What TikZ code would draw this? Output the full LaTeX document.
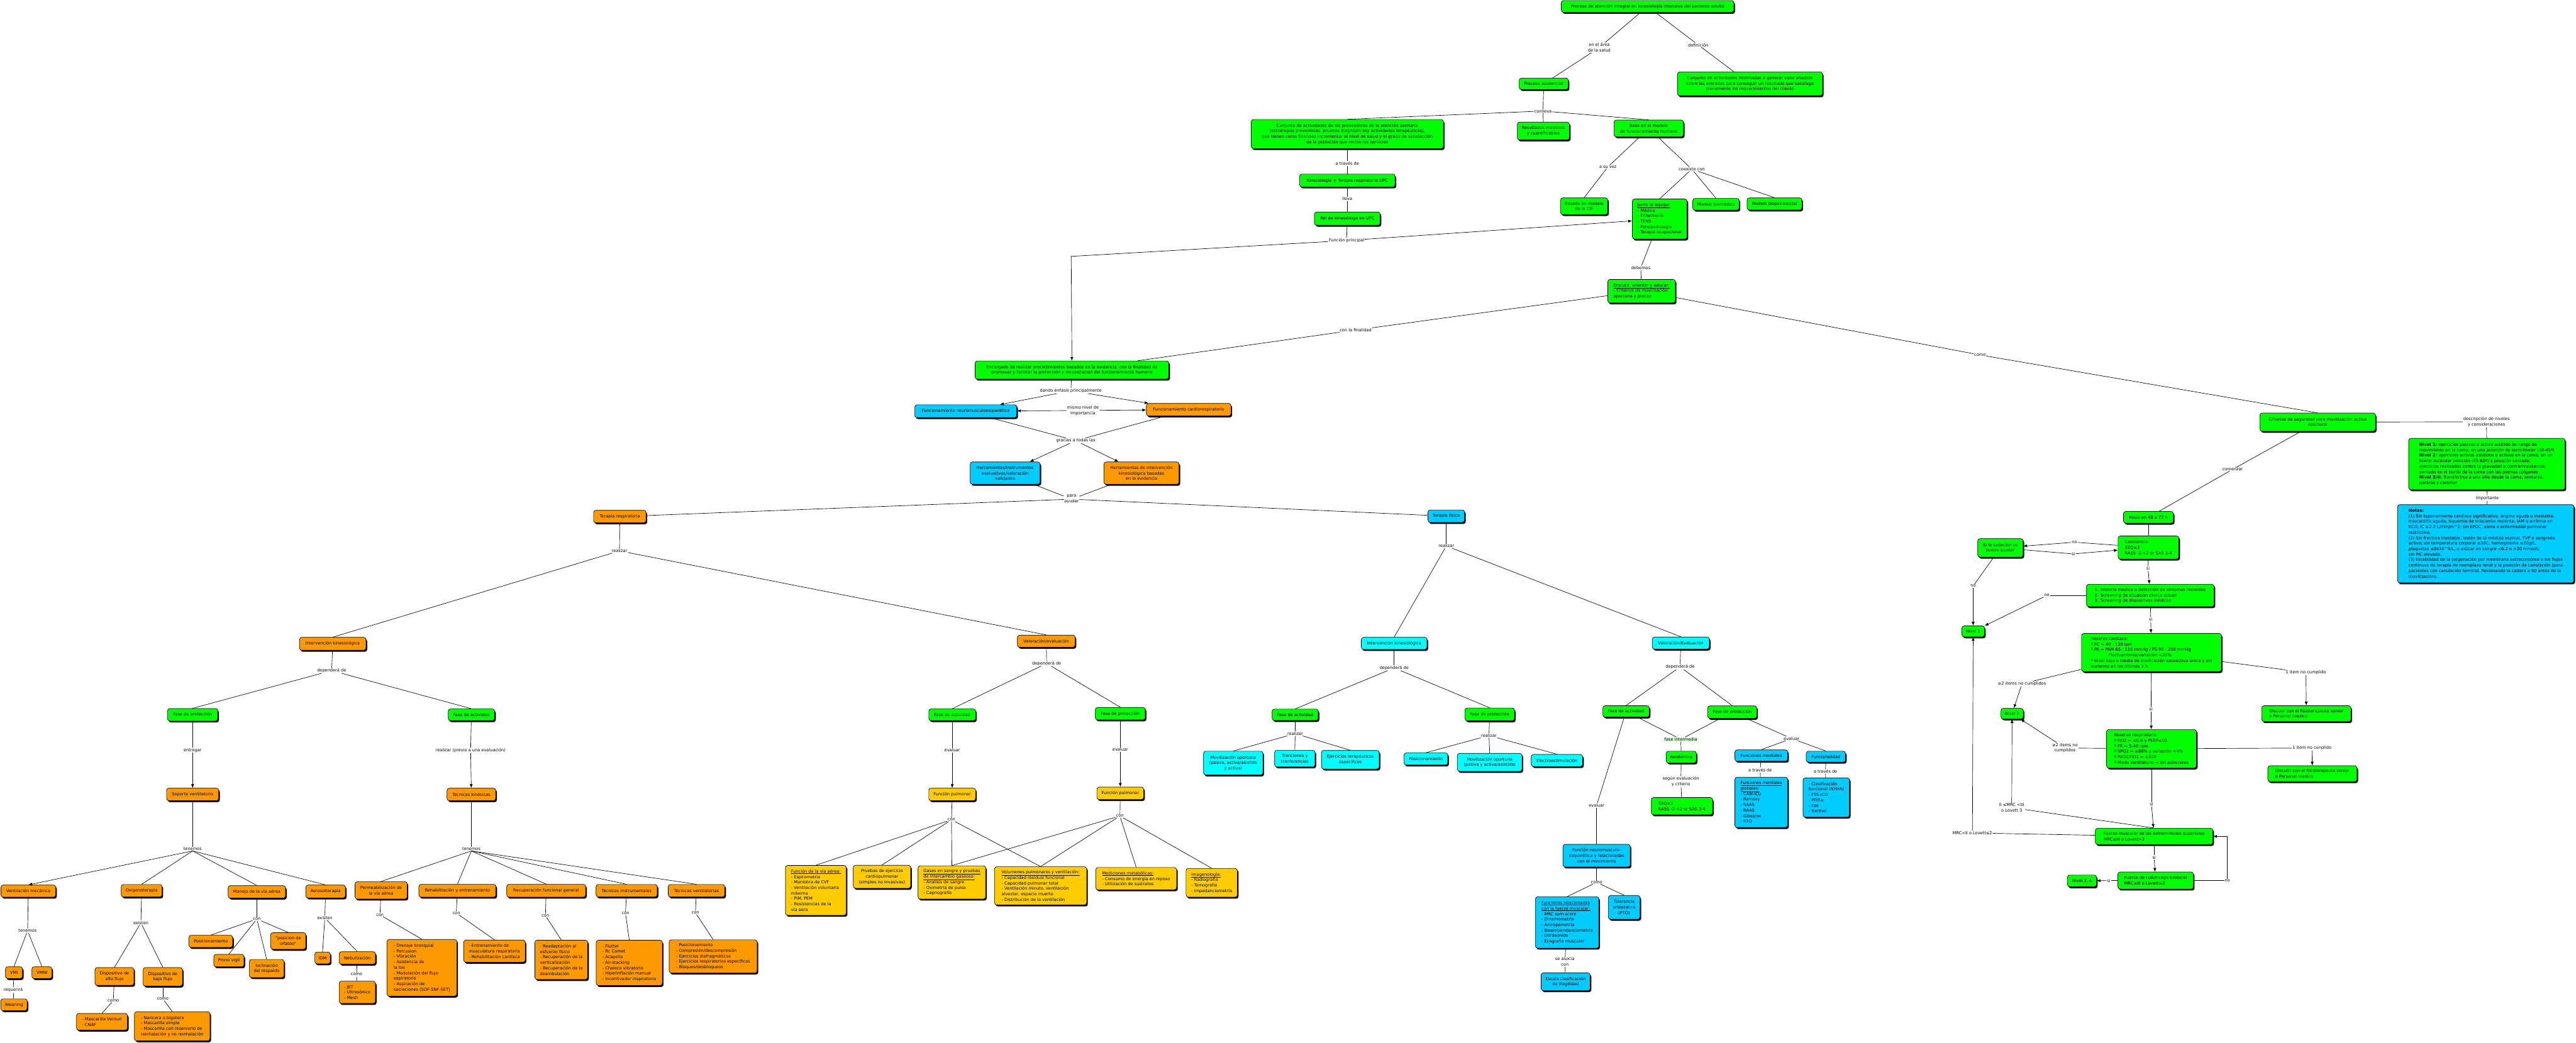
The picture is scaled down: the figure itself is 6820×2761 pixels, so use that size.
\documentclass[tikz,border=0pt]{standalone}
\usepackage{fontspec}
\setmainfont{DejaVu Sans}
\usetikzlibrary{arrows.meta,shadows}
\definecolor{cmgreen}{HTML}{00FF00}
\definecolor{cmorange}{HTML}{FF9900}
\definecolor{cmcyan}{HTML}{00FFFF}
\definecolor{cmblue}{HTML}{00CCFF}
\definecolor{cmyellow}{HTML}{FFCC00}
\definecolor{cmpale}{HTML}{CCFFCC}
\tikzset{sz/.style 2 args={minimum width=#1pt, minimum height=#2pt}}

\begin{document}
\begin{tikzpicture}[
    x=1pt, y=-1pt,
    box/.style={draw=black, line width=1.1pt, rounded corners=6pt, align=center,
        inner sep=3pt, font=\fontsize{11}{14.5}\selectfont,
        drop shadow={fill=black, opacity=1, shadow xshift=3pt, shadow yshift=-4pt}},
    gbox/.style={box, fill=cmgreen},
    obox/.style={box, fill=cmorange},
    cbox/.style={box, fill=cmcyan},
    bbox/.style={box, fill=cmblue},
    ybox/.style={box, fill=cmyellow},
    lbl/.style={fill=white, inner sep=1.5pt, align=center, font=\fontsize{11}{14.5}\selectfont},
    line/.style={line width=1.1pt, draw=black},
    arrow/.style={line, -{Latex[length=10pt,width=8pt]}}
]
\path[use as bounding box, fill=white] (0,0) rectangle (6820,2761);

% upper part
\node[gbox, sz={457}{31}] (top) at (4362,17) {Proceso de atención integral en kinesiología intensiva del paciente adulto};
\node[gbox, sz={130}{30}] (asist) at (4087,222) {Proceso asistencial};
\node[gbox, sz={384}{63}] (defin) at (4633,222) {Conjunto de actividades destinadas a generar valor añadido\\sobre las entradas para conseguir un resultado que satisfaga\\plenamente los requerimientos del cliente};
\node[gbox, sz={509}{77}] (conjunto) at (3567,355) {Conjunto de actividades de los proveedores de la atención sanitaria\\(estrategias preventivas, pruebas diagnósticasy actividades terapéuticas),\\que tienen como finalidad incrementar el nivel de salud y el grado de satisfacción\\de la población que recibe los servicios};
\node[gbox, sz={138}{47}] (result) at (4086,347) {Resultados medibles\\y cuantificables};
\node[gbox, sz={184}{44}] (base) at (4365,340) {Base en el modelo\\de funcionamiento humano};
\node[gbox, sz={253}{34}] (kine) at (3567,478) {Kinesiología + Terapia respiratoria UPC};
\node[gbox, sz={174}{35}] (rol) at (3567,579) {Rol de kinesiólogo en UPC};
\node[gbox, sz={125}{44}] (cif) at (4194,546) {Basado en modelo\\de la CIF};
\node[gbox, sz={145}{106}, align=left] (equipo) at (4394,580) {\underline{Junto al equipo:}\\- Médico\\- Enfermería\\- TENS\\- Fonoaudiología\\- Terapia ocupacional};
\node[gbox, sz={123}{31}] (biomed) at (4543,541) {Modelo biomédico};
\node[gbox, sz={145}{32}] (biopsico) at (4698,540) {Modelo biopsicosocial};
\node[gbox, sz={179}{62}, align=left] (discutir) at (4346,771) {\underline{Discutir, orientar y educar:}\\- Criterios de movilización\\oportuna y precoz};
\node[gbox, sz={513}{48}] (encargado) at (2838,980) {Encargado de realizar procedimientos basados en la evidencia, con la finalidad de\\promover y facilitar la protección y recuperación del funcionamiento humano};
\node[bbox, sz={270}{34}] (neuro) at (2557,1089) {Funcionamiento neuromusculoesquelético};
\node[obox, sz={224}{33}] (cardio) at (3147,1085) {Funcionamiento cardiorespiratorio};
\node[bbox, sz={185}{59}] (herreval) at (2661,1253) {Herramientas/instrumentos\\evaluativos/valoración\\validados};
\node[obox, sz={199}{59}] (herrint) at (3022,1253) {Herramientas de intervención\\kinesiológica basadas\\en la evidencia};
\node[obox, sz={139}{33}] (terresp) at (1641,1368) {Terapia respiratoria};
\node[bbox, sz={97}{33}] (terfis) at (3829,1367) {Terapia física};
\coordinate (bend) at (2836,679);

\node[lbl] (l1) at (4234,126) {en el área\\de la salud};
\node[lbl] (l2) at (4496,119) {definición};
\node[lbl] (l3) at (4085,294) {conlleva};
\node[lbl] (l4) at (3567,433) {a través de};
\node[lbl] (l5) at (3567,527) {lleva};
\node[lbl] (l6) at (3565,637) {Función principal};
\node[lbl] (l7) at (4257,442) {a su vez};
\node[lbl] (l8) at (4479,448) {coexiste con};
\node[lbl] (l9) at (4344,709) {debemos};
\node[lbl] (l10) at (3589,874) {con la finalidad};
\node[lbl] (l11) at (5242,940) {como};
\node[lbl] (l12) at (2835,1035) {dando énfasis principalmente};
\node[lbl] (l13) at (2867,1087) {mismo nivel de\\importancia};
\node[lbl] (l14) at (2848,1167) {gracias a todas las};
\node[lbl] (l15) at (2837,1322) {para\\ayudar};

\draw[line] (top) -- (l1); \draw[line] (l1) -- (asist);
\draw[line] (top) -- (l2); \draw[line] (l2) -- (defin);
\draw[line] (asist) -- (l3);
\draw[line] (l3) -- (conjunto.north); \draw[line] (l3) -- (result.north); \draw[line] (l3) -- (base.north);
\draw[line] (conjunto) -- (l4); \draw[line] (l4) -- (kine);
\draw[line] (kine) -- (l5); \draw[line] (l5) -- (rol);
\draw[line] (rol) -- (l6);
\draw[arrow] (l6) -- (bend) -- (encargado);
\draw[arrow] (l6) -- (equipo);
\draw[line] (base) -- (l7); \draw[line] (l7) -- (cif.north);
\draw[line] (base) -- (l8);
\draw[line] (l8) -- (equipo.north); \draw[line] (l8) -- (biomed.north); \draw[line] (l8) -- (biopsico.north);
\draw[line] (equipo) -- (l9); \draw[line] (l9) -- (discutir);
\draw[line] (discutir) -- (l10); \draw[line] (l10) -- (encargado);
\draw[line] (discutir) -- (l11);
\draw[line] (encargado) -- (l12);
\draw[arrow] (l12) -- (neuro); \draw[arrow] (l12) -- (cardio);
\draw[arrow] (l13) -- (neuro); \draw[arrow] (l13) -- (cardio);
\draw[line] (neuro) -- (l14); \draw[line] (cardio) -- (l14);
\draw[arrow] (l14) -- (herreval); \draw[arrow] (l14) -- (herrint);
\draw[line] (herreval) -- (l15); \draw[line] (herrint) -- (l15);
\draw[line] (l15) -- (terresp); \draw[line] (l15) -- (terfis);

% terapia respiratoria
\node[obox, sz={176}{34}] (intresp) at (881,1705) {Intervención kinesiológica};
\node[obox, sz={153}{32}] (valresp) at (2770,1698) {Valoración/evaluación};
\node[gbox, sz={133}{33}] (protA) at (510,1893) {Fase de protección};
\node[gbox, sz={123}{31}] (actA) at (1248,1893) {Fase de actividad};
\node[gbox, sz={124}{31}] (actB) at (2521,1893) {Fase de actividad};
\node[gbox, sz={132}{33}] (protB) at (2966,1890) {Fase de protección};
\node[obox, sz={138}{33}] (soporte) at (510,2104) {Soporte ventilatorio};
\node[obox, sz={129}{33}] (tecnic) at (1248,2104) {Tecnicas kinésicas};
\node[ybox, sz={124}{33}] (funpA) at (2521,2104) {Función pulmonar};
\node[ybox, sz={124}{33}] (funpB) at (2966,2101) {Función pulmonar};

\node[obox, sz={145}{32}] (vmec) at (75,2360) {Ventilación mecánica};
\node[obox, sz={108}{33}] (oxig) at (375,2359) {Oxigenoterapia};
\node[obox, sz={152}{33}] (manejo) at (680,2362) {Manejo de la vía aérea};
\node[obox, sz={105}{34}] (aeros) at (862,2361) {Aerosolterapia};
\node[obox, sz={138}{46}] (permea) at (1009,2358) {Permeabilización de\\la vía aérea};
\node[obox, sz={204}{34}] (rehab) at (1211,2359) {Rehabilitación y entrenamiento};
\node[obox, sz={209}{34}] (recup) at (1446,2359) {Recuperación funcional general};
\node[obox, sz={162}{33}] (tinstr) at (1659,2359) {Técnicas instrumentales};
\node[obox, sz={150}{33}] (tvent) at (1844,2359) {Técnicas ventilatorias};
\node[obox, sz={45}{31}] (vmi) at (37,2576) {VMI};
\node[obox, sz={53}{31}] (vmni) at (111,2576) {VMNI};
\node[obox, sz={70}{31}] (weaning) at (37,2661) {Weaning};
\node[obox, sz={103}{47}] (alto) at (303,2586) {Dispositivo de\\alto flujo};
\node[obox, sz={104}{49}] (bajo) at (431,2587) {Dispositivo de\\bajo flujo};
\node[obox, sz={135}{44}, align=left] (venturi) at (270,2706) {- Mascarilla Venturi\\- CNAF};
\node[obox, sz={200}{77}, align=left] (naricera) at (456,2718) {- Naricera o bigotera\\- Mascarilla simple\\- Mascarilla con reservorio de\\reinhalación y no reinhalación};
\node[obox, sz={116}{32}] (posic) at (558,2493) {Posicionamiento};
\node[obox, sz={80}{33}] (prono) at (606,2544) {Prono vigil};
\node[obox, sz={92}{48}] (inclin) at (706,2565) {Inclinación\\del respaldo};
\node[obox, sz={93}{44}] (olfateo) at (763,2492) {"posicion de\\olfateo"};
\node[obox, sz={41}{31}] (idm) at (854,2537) {IDM};
\node[obox, sz={96}{33}] (nebul) at (946,2537) {Nebulización};
\node[obox, sz={96}{59}, align=left] (jet) at (946,2628) {- JET\\- Ultrasónico\\- Mesh};
\node[obox, sz={185}{150}, align=left] (drenaje) at (1117,2563) {- Drenaje bronquial\\- Percusion\\- Vibración\\- Asistencia de\\la tos\\- Modulación del flujo\\espiratorio\\- Aspiración de\\secreciones (SOF-SNF-SET)};
\node[obox, sz={163}{59}, align=left] (entren) at (1309,2519) {- Entrenamiento de\\musculatura respiratoria\\- Rehabilitación cardíaca};
\node[obox, sz={140}{104}, align=left] (readapt) at (1486,2542) {- Readaptación al\\esfuerzo físico\\- Recuperación de la\\verticalización\\- Recuperación de la\\deambulación};
\node[obox, sz={175}{120}, align=left] (flutter) at (1666,2550) {- Flutter\\- Rc Comet\\- Acapella\\- Air-stacking\\- Chaleco vibratorio\\- Hiperinflación manual\\- Incentivador inspiratorio};
\node[obox, sz={233}{88}, align=left] (posvent) at (1888,2533) {- Posicionamiento\\- Compresión/descompresión\\- Ejercicios diafragmáticos\\- Ejercicios respiratorios específicos\\- Bloques/desbloqueos};

\node[ybox, sz={161}{132}, align=left] (viaaerea) at (2160,2358) {\underline{Función de la vía aérea:}\\- Espirometria\\- Maniobra de CVF\\- Ventilación voluntaria\\máxima\\- PIM, PEM\\- Resistencias de la\\vía aera};
\node[ybox, sz={152}{61}] (pruebas) at (2335,2322) {Pruebas de ejercicio\\cardiopulmonar\\(simples no invasivas)};
\node[ybox, sz={179}{88}, align=left] (gases) at (2520,2337) {\underline{Gases en sangre y pruebas}\\\underline{de intercambio gaseoso:}\\- Analisis de sangre\\- Oximetría de pulso\\- Capnografía};
\node[ybox, sz={244}{101}, align=left] (volum) at (2755,2346) {\underline{Volumenes pulmonares y ventilación:}\\- Capacidad residual funcional\\- Capacidad pulmonar total\\- Ventilación minuto, ventilación\\alveolar, espacio muerto\\- Distribución de la ventilación};
\node[ybox, sz={214}{59}, align=left] (medic) at (3008,2327) {\underline{Mediciones metabólicas:}\\- Consumo de energía en reposo\\- Utilización de sustratos};
\node[ybox, sz={136}{76}, align=left] (imagen) at (3208,2338) {\underline{Imagenología:}\\- Radiografía\\- Tomografía\\- Impedanciometría};

\node[lbl] (l16) at (1640,1459) {realizar};
\node[lbl] (l17) at (878,1776) {dependerá de};
\node[lbl] (l18) at (2771,1757) {dependerá de};
\node[lbl] (l19) at (510,1987) {entregar};
\node[lbl] (l20) at (1246,1987) {realizar (previo a una evaluación)};
\node[lbl] (l21) at (2521,1987) {evaluar};
\node[lbl] (l22) at (2966,1985) {evaluar};
\node[lbl] (l23) at (510,2248) {tenemos};
\node[lbl] (l24) at (1248,2248) {tenemos};
\node[lbl] (l25) at (2519,2171) {con};
\node[lbl] (l26) at (2965,2161) {con};
\node[lbl] (l40) at (73,2465) {tenemos};
\node[lbl] (l41) at (35,2622) {requerirá};
\node[lbl] (l42) at (373,2444) {existen};
\node[lbl] (l43) at (300,2650) {como};
\node[lbl] (l44) at (431,2645) {como};
\node[lbl] (l45) at (680,2434) {con};
\node[lbl] (l46) at (860,2431) {existen};
\node[lbl] (l47) at (944,2581) {como};
\node[lbl] (l48) at (1006,2423) {con};
\node[lbl] (l49) at (1208,2418) {con};
\node[lbl] (l50) at (1444,2425) {con};
\node[lbl] (l51) at (1656,2419) {con};
\node[lbl] (l52) at (1841,2417) {con};

\draw[line] (terresp) -- (l16);
\draw[line] (l16) -- (intresp.north); \draw[line] (l16) -- (valresp.north);
\draw[line] (intresp) -- (l17);
\draw[line] (l17) -- (protA.north); \draw[line] (l17) -- (actA.north);
\draw[line] (valresp) -- (l18);
\draw[line] (l18) -- (actB.north); \draw[line] (l18) -- (protB.north);
\draw[line] (protA) -- (l19); \draw[arrow] (l19) -- (soporte);
\draw[line] (actA) -- (l20); \draw[arrow] (l20) -- (tecnic);
\draw[line] (actB) -- (l21); \draw[arrow] (l21) -- (funpA);
\draw[line] (protB) -- (l22); \draw[arrow] (l22) -- (funpB);
\draw[line] (funpA) -- (l25);
\draw[line] (l25) -- (viaaerea.north); \draw[line] (l25) -- (pruebas.north);
\draw[line] (l25) -- (gases.north); \draw[line] (l25) -- (volum.north);
\draw[line] (funpB) -- (l26);
\draw[line] (l26) -- (gases.north); \draw[line] (l26) -- (volum.north);
\draw[line] (l26) -- (medic.north); \draw[line] (l26) -- (imagen.north);
\draw[line] (soporte) -- (l23);
\draw[arrow] (l23.south) -- (vmec.north); \draw[line] (l23.south) -- (oxig.north);
\draw[line] (l23.south) -- (manejo.north); \draw[line] (l23.south) -- (aeros.north);
\draw[line] (tecnic) -- (l24);
\draw[line] (l24.south) -- (permea.north); \draw[line] (l24.south) -- (rehab.north);
\draw[line] (l24.south) -- (recup.north); \draw[line] (l24.south) -- (tinstr.north);
\draw[line] (l24.south) -- (tvent.north);
\draw[line] (vmec) -- (l40);
\draw[line] (l40) -- (vmi.north); \draw[line] (l40) -- (vmni.north);
\draw[line] (vmi) -- (l41); \draw[line] (l41) -- (weaning);
\draw[line] (oxig) -- (l42);
\draw[line] (l42) -- (alto.north); \draw[line] (l42) -- (bajo.north);
\draw[line] (alto) -- (l43); \draw[line] (l43) -- (venturi.north);
\draw[line] (bajo) -- (l44); \draw[line] (l44) -- (naricera.north);
\draw[line] (manejo) -- (l45);
\draw[line] (l45) -- (posic.north); \draw[line] (l45) -- (prono.north);
\draw[line] (l45) -- (inclin.north); \draw[line] (l45) -- (olfateo.north);
\draw[line] (aeros) -- (l46);
\draw[line] (l46) -- (idm.north); \draw[line] (l46) -- (nebul.north);
\draw[line] (nebul) -- (l47); \draw[line] (l47) -- (jet);
\draw[line] (permea) -- (l48); \draw[line] (l48) -- (drenaje.north);
\draw[line] (rehab) -- (l49); \draw[line] (l49) -- (entren.north);
\draw[line] (recup) -- (l50); \draw[line] (l50) -- (readapt.north);
\draw[line] (tinstr) -- (l51); \draw[line] (l51) -- (flutter.north);
\draw[line] (tvent) -- (l52); \draw[line] (l52) -- (posvent.north);

% terapia fisica
\node[cbox, sz={174}{32}] (intfis) at (3691,1704) {Intervención kinesiológica};
\node[cbox, sz={151}{32}] (valfis) at (4450,1703) {Valoración/Evaluación};
\node[gbox, sz={122}{30}] (actC) at (3429,1893) {Fase de actividad};
\node[gbox, sz={131}{34}] (protC) at (3944,1892) {Fase de protección};
\node[gbox, sz={123}{30}] (actD) at (4305,1884) {Fase de actividad};
\node[gbox, sz={130}{33}] (protD) at (4586,1886) {Fase de protección};
\node[cbox, sz={157}{63}] (movil1) at (3265,2021) {Movilización oportuna\\(pasiva, activa/asistida\\y activa)};
\node[cbox, sz={107}{44}] (tranc) at (3428,2009) {Tranciones y\\tranferencias};
\node[cbox, sz={153}{49}] (ejerc) at (3575,2012) {Ejercicios terapéuticos\\especificos};
\node[cbox, sz={116}{32}] (posfis) at (3775,2010) {Posicionamiento};
\node[cbox, sz={171}{48}] (movil2) at (3944,2019) {Movilización oportuna\\(pasiva y activa/asistida)};
\node[cbox, sz={136}{32}] (electro) at (4122,2014) {Electroestimulación};
\node[gbox, sz={80}{31}] (awak) at (4451,2005) {Awakening};
\node[bbox, sz={140}{30}] (fment) at (4663,2001) {Funciones mentales};
\node[bbox, sz={104}{29}] (funcio) at (4834,2004) {Funcionalidad};
\node[gbox, sz={162}{46}, align=left] (s5q) at (4453,2135) {S5Q≥3\\RASS -2-+2 or SAS 3-4};
\node[bbox, sz={140}{133}, align=left] (fmglob) at (4663,2125) {\underline{Funciones mentales}\\\underline{globales:}\\- CAM-ICU\\- Ramsey\\- SAAS\\- RAAS\\- Glasgow\\- S5Q};
\node[bbox, sz={123}{104}, align=left] (clasif) at (4835,2112) {- Clasificación\\funcional (NYHA)\\- FSS-ICU\\- PFIT-s\\- FIM\\- Barthel};
\node[bbox, sz={178}{60}] (fneuro) at (4227,2266) {Función neuromusculo-\\esquelética y relacionadas\\con el movimiento};
\node[bbox, sz={168}{136}, align=left] (ffuerza) at (4149,2443) {\underline{Funciones relacionadas}\\\underline{con la fuerza muscular:}\\- MRC sum-score\\- Dinamometría\\- Antropometría\\- Bioempendanciometría\\- Ultrasonido\\- Ecografía muscular};
\node[bbox, sz={84}{63}] (toler) at (4300,2403) {Tolerancia\\ortóstatica\\(PTO)};
\node[bbox, sz={130}{47}] (escala) at (4145,2600) {Escala clasificación\\de fragilidad};

\node[lbl] (l27) at (3829,1446) {realizar};
\node[lbl] (l28) at (3691,1769) {dependerá de};
\node[lbl] (l29) at (4448,1766) {dependerá de};
\node[lbl] (l30) at (3429,1943) {realizar};
\node[lbl] (l31) at (3942,1948) {realizar};
\node[lbl, fill=cmpale] (l32) at (4450,1958) {fase intermedia};
\node[lbl] (l33) at (4743,1956) {evaluar};
\node[lbl] (l34) at (4450,2070) {según evaluación\\y criterio};
\node[lbl] (l35) at (4660,2039) {a través de};
\node[lbl] (l36) at (4833,2043) {a través de};
\node[lbl] (l37) at (4227,2133) {evaluar};
\node[lbl] (l38) at (4227,2337) {como};
\node[lbl] (l39) at (4143,2547) {se asocia\\con};

\draw[line] (terfis) -- (l27);
\draw[line] (l27) -- (intfis.north); \draw[line] (l27) -- (valfis.north);
\draw[line] (intfis) -- (l28);
\draw[line] (l28) -- (actC.north); \draw[line] (l28) -- (protC.north);
\draw[line] (valfis) -- (l29);
\draw[line] (l29) -- (actD.north); \draw[line] (l29) -- (protD.north);
\draw[line] (actC) -- (l30);
\draw[line] (l30) -- (movil1.north); \draw[line] (l30) -- (tranc.north); \draw[line] (l30) -- (ejerc.north);
\draw[line] (protC) -- (l31);
\draw[line] (l31) -- (posfis.north); \draw[line] (l31) -- (movil2.north); \draw[line] (l31) -- (electro.north);
\draw[line] (actD) -- (l32); \draw[line] (protD) -- (l32); \draw[line] (l32) -- (awak);
\draw[line] (awak) -- (l34); \draw[line] (l34) -- (s5q);
\draw[line] (protD) -- (l33);
\draw[line] (l33) -- (fment.north); \draw[line] (l33) -- (funcio.north);
\draw[line] (fment) -- (l35); \draw[line] (l35) -- (fmglob);
\draw[line] (funcio) -- (l36); \draw[line] (l36) -- (clasif);
\draw[line] (actD) -- (l37); \draw[line] (l37) -- (fneuro);
\draw[line] (fneuro) -- (l38);
\draw[line] (l38) -- (ffuerza.north); \draw[line] (l38) -- (toler.north);
\draw[line] (ffuerza) -- (l39); \draw[line] (l39) -- (escala);

% movilizacion
\node[gbox, sz={306}{48}] (criterios) at (6136,1118) {Criterios de seguridad para movilización activa\\oportuna};
\node[gbox, sz={414}{136}, align=left] (niveles) at (6584,1229) {\textbf{Nivel 1:} ejercicios pasivos o activo asistido de rango de\\movimiento en la cama, en una posición de semi-fowler (30-45º)\\\textbf{Nivel 2:} ejercicios activos asistidos o activos en la cama, en un\\fowler estándar posición (45-60º) a posición sentada;\\ejercicios realizados contra la gravedad o contrarresistencia;\\sentado en el borde de la cama con las piernas colgando\\\textbf{Nivel 3/4:} Transferirse a una silla desde la cama, sentarse,\\pararse y caminar};
\node[bbox, sz={467}{207}, align=left] (notas) at (6581,1440) {\textbf{Notas:}\\(1) Sin taponamiento cardíaco significativo, angina aguda o inestable,\\miocarditis aguda, isquemia de miocardio reciente, IAM o arritmia en\\ECG; IC ≥2.0 L/min/m\textasciicircum 2; sin EPOC, asma o enfermedad pulmonar\\restrictiva.\\(2) Sin fractura inestable, lesión de la médula espinal, TVP o sangrado\\activo; sin temperatura corporal ≥38C, hemoglobina ≤70g/L,\\plaquetas ≤8x10\textasciicircum 9/L, o azúcar en sangre <6.2 o >20 mmol/L;\\sin PIC elevada.\\(3) Estabilidad de la oxigenación por membrana extracorpórea o los flujos\\continuos de terapia de reemplazo renal y la posición de canulación (para\\pacientes con canulación femoral, flexionando la cadera a 90 antes de la\\movilización).};
\node[gbox, sz={132}{31}] (inicio) at (5688,1370) {Inicio en 48 a 72 h};
\node[gbox, sz={161}{61}, align=left] (concien) at (5688,1450) {Conciencia:\\S5Q≥3\\RASS -2-+2 or SAS 3-4};
\node[gbox, sz={120}{49}] (sedac) at (5296,1451) {Si la sedación se\\puede ajustar};
\node[gbox, sz={338}{59}, align=left] (historia) at (5693,1577) {1. Historia medica o detección de síntomas recientes\\2. Screening de situación clinica actual\\3. Screening de dispositvos médicos};
\node[gbox, sz={60}{29}] (nivel1) at (5224,1672) {Nivel 1};
\node[gbox, sz={370}{101}, align=left] (rcard) at (5696,1728) {Reserva cardiaca:\\º FC = 40 - 130 lpm\\º PA = PAM 65 - 110 mmHg / PS 90 - 200 mmHg\\\hspace*{4.2em}Fluctuaciones/variación <20\%\\º Nivel bajo o medio de medicación vasoactiva única y sin\\aumento en las últimas 2 h};
\node[gbox, sz={236}{42}, align=left] (disc1) at (6106,1890) {Discutir con el fisioterapeuta senior\\o Personal medico};
\node[gbox, sz={59}{28}] (nivel2) at (5327,1890) {Nivel 2};
\node[gbox, sz={238}{102}, align=left] (rresp) at (5696,1983) {Reserva respiratoria:\\º FiO2 = ≤0.6 y PEEP≤10\\º FR = 5-40 rpm\\º SPO2 = ≥88\% y variación <4\%\\º PaO2/FiO2 = ≥200\\º Modo ventilatorio = sin asincronia};
\node[gbox, sz={236}{42}, align=left] (disc2) at (6122,2049) {Discutir con el fisioterapeuta senior\\o Personal medico};
\node[gbox, sz={311}{43}, align=left] (fmusc) at (5703,2215) {Fuerza muscular de las extremidades superiores\\MRC≥III o Lovett>3};
\node[gbox, sz={200}{45}, align=left] (fcuad) at (5707,2332) {Fuerza de cuádriceps bilateral\\MRC≥III o Lovett≥2};
\node[gbox, sz={77}{31}] (nivel34) at (5512,2333) {Nivel 3, 4};

\node[lbl] (l53) at (6583,1117) {descripción de niveles\\y consideraciones};
\node[lbl] (l54) at (6585,1320) {importante};
\node[lbl] (l55) at (5911,1243) {comenzar};
\node[lbl] (l56) at (5492,1436) {no};
\node[lbl] (l57) at (5489,1467) {si};
\node[lbl] (l58) at (5687,1506) {si};
\node[lbl] (l59) at (5224,1552) {no};
\node[lbl] (l60) at (5419,1577) {no};
\node[lbl] (l61) at (5694,1640) {si};
\node[lbl] (l62) at (5353,1811) {≥2 items no cumplidos};
\node[lbl] (l63) at (6105,1781) {1 item no cumplido};
\node[lbl] (l64) at (5695,1879) {si};
\node[lbl] (l65) at (5467,1981) {≥2 items no\\cumplidos};
\node[lbl] (l66) at (6121,1981) {1 item no cunplido};
\node[lbl] (l67) at (5696,2130) {si};
\node[lbl] (l68) at (5326,2139) {II ≤MRC <III\\o Lovett 3};
\node[lbl] (l69) at (5222,2206) {MRC<II o Lovett≤2};
\node[lbl] (l70) at (5703,2271) {si};
\node[lbl] (l71) at (5583,2332) {si};
\node[lbl] (l72) at (5897,2332) {no};

\draw[line] (l11) -- (criterios.north);
\draw[line] (criterios) -- (l53); \draw[line] (l53) -- (niveles);
\draw[line] (niveles) -- (l54); \draw[line] (l54) -- (notas);
\draw[line] (criterios) -- (l55); \draw[line] (l55) -- (inicio);
\draw[line] (inicio) -- (concien);
\draw[line] (concien) -- (l56); \draw[arrow] (l56) -- (sedac);
\draw[line] (sedac) -- (l57); \draw[arrow] (l57) -- (concien);
\draw[line] (concien) -- (l58); \draw[arrow] (l58) -- (historia);
\draw[line] (sedac) -- (l59); \draw[arrow] (l59) -- (nivel1);
\draw[line] (historia) -- (l60); \draw[arrow] (l60) -- (nivel1);
\draw[line] (historia) -- (l61); \draw[arrow] (l61) -- (rcard);
\draw[line] (rcard) -- (l62); \draw[arrow] (l62) -- (nivel2);
\draw[line] (rcard) -- (l63); \draw[arrow] (l63) -- (disc1);
\draw[line] (rcard) -- (l64); \draw[arrow] (l64) -- (rresp);
\draw[line] (rresp) -- (l65); \draw[arrow] (l65) -- (nivel2);
\draw[line] (rresp) -- (l66); \draw[arrow] (l66) -- (disc2);
\draw[line] (rresp) -- (l67); \draw[arrow] (l67) -- (fmusc);
\draw[line] (fmusc.north) -- (l68); \draw[arrow] (l68) -- (nivel2);
\draw[line] (fmusc) -- (l69); \draw[arrow] (l69) -- (nivel1);
\draw[line] (fmusc) -- (l70); \draw[arrow] (l70) -- (fcuad);
\draw[line] (fcuad) -- (l71); \draw[arrow] (l71) -- (nivel34);
\draw[line] (fcuad) -- (l72); \draw[arrow] (l72) |- (fmusc);
\end{tikzpicture}
\end{document}
